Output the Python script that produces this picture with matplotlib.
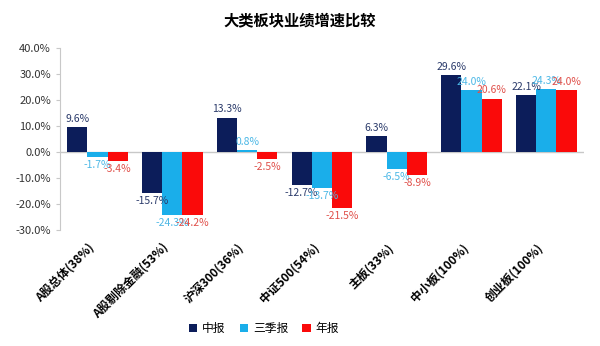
import numpy as np
import matplotlib
matplotlib.use("Agg")
import matplotlib.pyplot as plt
from matplotlib.transforms import ScaledTranslation

plt.rcParams['font.family'] = ['Noto Sans CJK SC', 'DejaVu Sans']

categories = ['A股总体(38%)', 'A股剔除金融(53%)', '沪深300(36%)', '中证500(54%)',
              '主板(33%)', '中小板(100%)', '创业板(100%)']
series_names = ['中报', '三季报', '年报']
zhongbao = [9.6, -15.7, 13.3, -12.7, 6.3, 29.6, 22.1]
sanjibao = [-1.7, -24.3, 0.8, -13.7, -6.5, 24.0, 24.3]
nianbao = [-3.4, -24.2, -2.5, -21.5, -8.9, 20.6, 24.0]

bar_colors = ['#0c1d5a', '#1aaeea', '#fa0a0a']
label_colors = ['#2a3a6a', '#4cb8e6', '#e0504a']

fig = plt.figure(figsize=(6, 3.46), dpi=100)
ax = fig.add_axes([0.1, 0.335, 0.873, 0.526])

x = np.arange(len(categories))
w = 0.27
for i, vals in enumerate([zhongbao, sanjibao, nianbao]):
    pos = x + (i - 1) * w
    ax.bar(pos, vals, w, color=bar_colors[i], label=series_names[i], zorder=2)
    for p, v in zip(pos, vals):
        off = 1.2 if v >= 0 else -1.2
        ax.text(p, v + off, '%.1f%%' % v, ha='center', va='bottom' if v >= 0 else 'top',
                fontsize=7.5, color=label_colors[i])

ax.set_xlim(-0.5, len(categories) - 0.5)
ax.set_ylim(-30, 40)
ax.set_yticks(np.arange(-30, 41, 10))
ax.set_yticklabels(['%.1f%%' % t for t in np.arange(-30, 41, 10)], fontsize=8, color='#333333')
ax.axhline(0, color='#c8c8c8', lw=1, zorder=1)
ax.set_xticks(x)
ax.set_xticklabels(categories, rotation=45, ha='right', rotation_mode='anchor',
                   fontsize=8.5, fontweight='bold')
ax.tick_params(axis='x', length=0, pad=8)
shift = ScaledTranslation(-7 / 72, 0, fig.dpi_scale_trans)
for lbl in ax.get_xticklabels():
    lbl.set_transform(lbl.get_transform() + shift)
ax.tick_params(axis='y', length=3, color='#c8c8c8')
for s in ['top', 'right', 'bottom']:
    ax.spines[s].set_visible(False)
ax.spines['left'].set_color('#c8c8c8')

fig.suptitle('大类板块业绩增速比较', fontsize=11, fontweight='bold', y=0.965)
fig.legend(loc='center', bbox_to_anchor=(0.44, 0.05), ncol=3, frameon=False,
           fontsize=8.5, handlelength=0.7, handleheight=0.7, columnspacing=1.2,
           handletextpad=0.4)

fig.savefig('out.png', dpi=100)
